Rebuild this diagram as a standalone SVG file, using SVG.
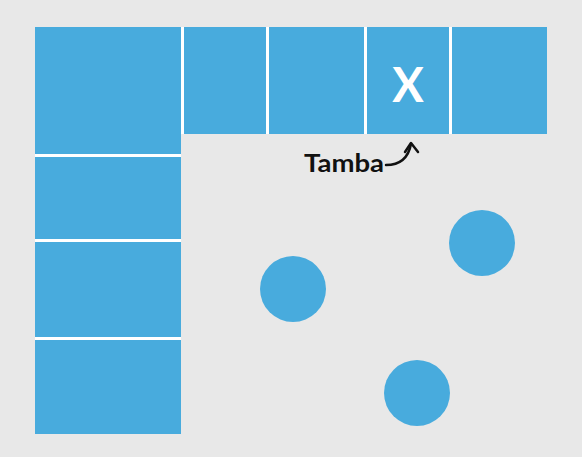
<svg xmlns="http://www.w3.org/2000/svg" width="582" height="457" viewBox="0 0 582 457">
<style>
.c{fill:#48abdd}
.t{font-family:Lato,"Liberation Sans",sans-serif;font-weight:bold}
</style>
<rect width="582" height="457" fill="#e8e8e8"/>
<rect x="181" y="27" width="3" height="107" fill="#fff"/>
<rect x="35" y="154" width="146" height="3" fill="#fff"/>
<rect x="35" y="239" width="146" height="3" fill="#fff"/>
<rect x="35" y="337" width="146" height="3" fill="#fff"/>
<rect x="266" y="27" width="3" height="107" fill="#fff"/>
<rect x="364" y="27" width="3" height="107" fill="#fff"/>
<rect x="449" y="27" width="3" height="107" fill="#fff"/>
<g id="left1"><rect class="c" x="35" y="27" width="146" height="127"/></g>
<g id="left2"><rect class="c" x="35" y="157" width="146" height="82"/></g>
<g id="left3"><rect class="c" x="35" y="242" width="146" height="95"/></g>
<g id="left4"><rect class="c" x="35" y="340" width="146" height="94"/></g>
<g id="top1"><rect class="c" x="184" y="27" width="82" height="107"/></g>
<g id="top2"><rect class="c" x="269" y="27" width="95" height="107"/></g>
<g id="top3"><rect class="c" x="367" y="27" width="82" height="107"/><text class="t" x="408" y="102" font-size="47" fill="#fff" text-anchor="middle">X</text></g>
<g id="top4"><rect class="c" x="452" y="27" width="95" height="107"/></g>
<g id="circle1"><circle class="c" cx="293" cy="289" r="33"/></g>
<g id="circle2"><circle class="c" cx="482" cy="243" r="33"/></g>
<g id="circle3"><circle class="c" cx="417" cy="393" r="33"/></g>
<g id="label"><text class="t" x="304" y="172" font-size="24" fill="#111" textLength="80" lengthAdjust="spacingAndGlyphs">Tamba</text></g>
<g id="connectors" fill="none" stroke="#111" stroke-width="2.5" stroke-linecap="round" stroke-linejoin="round">
<path d="M386,165 C398,165 408,160 411,144"/>
<path d="M405,152 L411,143 L418,152"/>
</g>
</svg>
